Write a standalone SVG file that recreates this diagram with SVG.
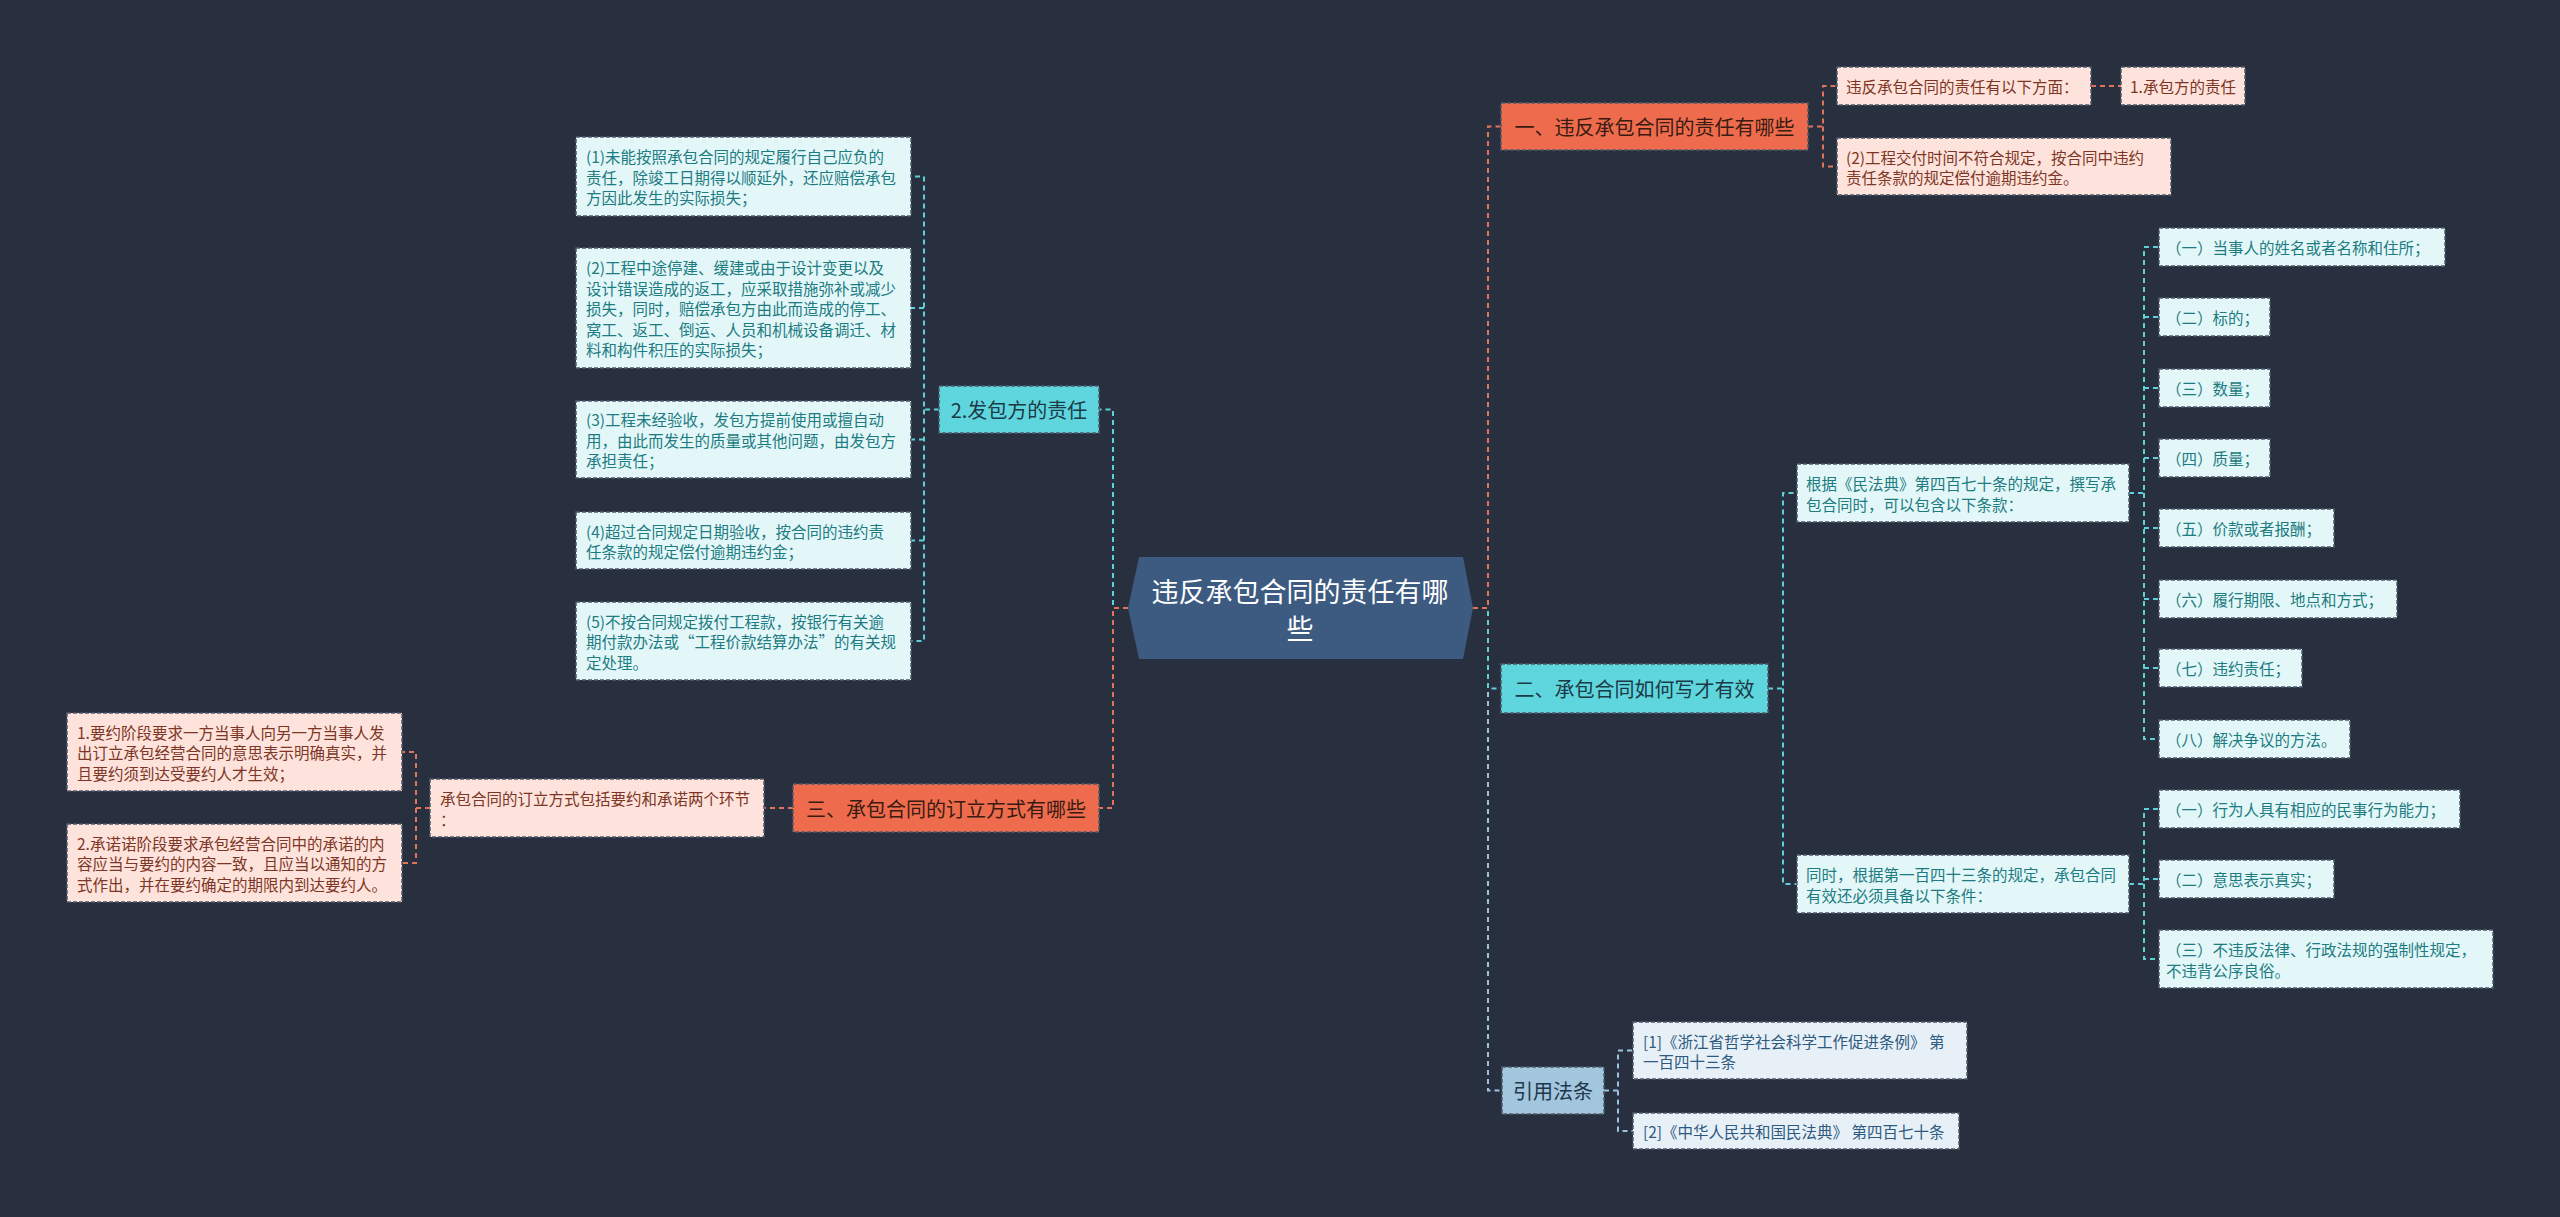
<svg xmlns="http://www.w3.org/2000/svg" width="2560" height="1217" viewBox="0 0 2560 1217">
<style>
text{font-family:"Noto Sans CJK SC","Noto Sans",sans-serif;dominant-baseline:central}
.bx{stroke:#4f5a69;stroke-width:1.5;stroke-dasharray:4 2}
.tc{fill:#e3f7f8}.tct{fill:#1d7b82;font-size:15.5px}
.pc{fill:#fde3db}.pct{fill:#7d3626;font-size:15.5px}
.rb{fill:#e8f0f7}.rbt{fill:#2d5a80;font-size:15.5px}
.on{fill:#ee6c4d}.ont{fill:#3a1b12;font-size:20px;text-anchor:middle}
.cn{fill:#5fd6de}.cnt{fill:#1b3a45;font-size:20px;text-anchor:middle}
.bn{fill:#a3c6df}.bnt{fill:#21374a;font-size:20px;text-anchor:middle}
.ln{fill:none;stroke-width:2;stroke-dasharray:5 4}
.lo{stroke:#e0735a}.lc{stroke:#5fd0d8}.lb{stroke:#9cc3e0}
</style>
<rect width="2560" height="1217" fill="#283040"/>
<g id="connectors">
<path class="ln lc" d="M1128,608 H1113 V409.5 H1099"/>
<path class="ln lo" d="M1128,608 H1113 V808 H1099"/>
<path class="ln lb" d="M1473,608 H1488 V1090.5 H1502"/>
<path class="ln lc" d="M1473,608 H1488 V688.5 H1501"/>
<path class="ln lo" d="M1473,608 H1488 V126.5 H1501"/>
<path class="ln lc" d="M939,409.5 H924 V176.5 H911 M924,308 H911 M924,409.5 V641 H911 M924,439.5 H911 M924,540.5 H911"/>
<path class="ln lo" d="M793,808 H764"/>
<path class="ln lo" d="M430,808 H416 V752 H402 M416,808 V863 H402"/>
<path class="ln lo" d="M1808,126.5 H1823 V86 H1837 M1823,126.5 V166.5 H1837"/>
<path class="ln lo" d="M2091,86 H2121"/>
<path class="ln lc" d="M1768,688.5 H1783 V493 H1797 M1783,688.5 V884 H1797"/>
<path class="ln lc" d="M2129,493 H2144 V247 H2159 M2144,317 H2159 M2144,388 H2159 M2144,458 H2159 M2144,493 V739 H2159 M2144,528 H2159 M2144,599 H2159 M2144,668 H2159"/>
<path class="ln lc" d="M2129,884 H2144 V809 H2159 M2144,879 H2159 M2144,884 V959 H2159"/>
<path class="ln lb" d="M1604,1090.5 H1618 V1050.5 H1633 M1618,1090.5 V1131 H1633"/>
</g>
<g id="center">
<polygon points="1139,557 1463,557 1473,608 1463,659 1139,659 1128,608" fill="#3d5a80"/>
<text x="1300" y="590" fill="#ffffff" font-size="27" text-anchor="middle">违反承包合同的责任有哪</text>
<text x="1300" y="627" fill="#ffffff" font-size="27" text-anchor="middle">些</text>
</g>
<g id="n-fabao">
<rect class="bx cn" x="939" y="386" width="160" height="47"/>
<text class="cnt" x="1019" y="409.5">2.发包方的责任</text>
</g>
<g id="n-f1">
<rect class="bx tc" x="576" y="137" width="335" height="79"/>
<text class="tct" x="586" y="156">(1)未能按照承包合同的规定履行自己应负的</text>
<text class="tct" x="586" y="176.5">责任，除竣工日期得以顺延外，还应赔偿承包</text>
<text class="tct" x="586" y="197">方因此发生的实际损失；</text>
</g>
<g id="n-f2">
<rect class="bx tc" x="576" y="248" width="335" height="120"/>
<text class="tct" x="586" y="267">(2)工程中途停建、缓建或由于设计变更以及</text>
<text class="tct" x="586" y="287.5">设计错误造成的返工，应采取措施弥补或减少</text>
<text class="tct" x="586" y="308">损失，同时，赔偿承包方由此而造成的停工、</text>
<text class="tct" x="586" y="328.5">窝工、返工、倒运、人员和机械设备调迁、材</text>
<text class="tct" x="586" y="349">料和构件积压的实际损失；</text>
</g>
<g id="n-f3">
<rect class="bx tc" x="576" y="401" width="335" height="77"/>
<text class="tct" x="586" y="419">(3)工程未经验收，发包方提前使用或擅自动</text>
<text class="tct" x="586" y="439.5">用，由此而发生的质量或其他问题，由发包方</text>
<text class="tct" x="586" y="460">承担责任；</text>
</g>
<g id="n-f4">
<rect class="bx tc" x="576" y="512" width="335" height="57"/>
<text class="tct" x="586" y="530.5">(4)超过合同规定日期验收，按合同的违约责</text>
<text class="tct" x="586" y="551">任条款的规定偿付逾期违约金；</text>
</g>
<g id="n-f5">
<rect class="bx tc" x="576" y="602" width="335" height="78"/>
<text class="tct" x="586" y="620.5">(5)不按合同规定拨付工程款，按银行有关逾</text>
<text class="tct" x="586" y="641">期付款办法或“工程价款结算办法”的有关规</text>
<text class="tct" x="586" y="661.5">定处理。</text>
</g>
<g id="n-san">
<rect class="bx on" x="793" y="784" width="306" height="48"/>
<text class="ont" x="946" y="808">三、承包合同的订立方式有哪些</text>
</g>
<g id="n-s1">
<rect class="bx pc" x="430" y="779" width="334" height="58"/>
<text class="pct" x="440" y="798">承包合同的订立方式包括要约和承诺两个环节</text>
<text class="pct" x="440" y="819">：</text>
</g>
<g id="n-s11">
<rect class="bx pc" x="67" y="713" width="335" height="78"/>
<text class="pct" x="77" y="731.5">1.要约阶段要求一方当事人向另一方当事人发</text>
<text class="pct" x="77" y="752">出订立承包经营合同的意思表示明确真实，并</text>
<text class="pct" x="77" y="772.5">且要约须到达受要约人才生效；</text>
</g>
<g id="n-s12">
<rect class="bx pc" x="67" y="824" width="335" height="78"/>
<text class="pct" x="77" y="842.5">2.承诺诺阶段要求承包经营合同中的承诺的内</text>
<text class="pct" x="77" y="863">容应当与要约的内容一致，且应当以通知的方</text>
<text class="pct" x="77" y="883.5">式作出，并在要约确定的期限内到达要约人。</text>
</g>
<g id="n-yi">
<rect class="bx on" x="1501" y="103" width="307" height="47"/>
<text class="ont" x="1654.5" y="126.5">一、违反承包合同的责任有哪些</text>
</g>
<g id="n-y1">
<rect class="bx pc" x="1837" y="67" width="254" height="38"/>
<text class="pct" x="1846" y="86">违反承包合同的责任有以下方面：</text>
</g>
<g id="n-y11">
<rect class="bx pc" x="2121" y="67" width="124" height="38"/>
<text class="pct" x="2130" y="86">1.承包方的责任</text>
</g>
<g id="n-y2">
<rect class="bx pc" x="1837" y="138" width="334" height="57"/>
<text class="pct" x="1846" y="156.5">(2)工程交付时间不符合规定，按合同中违约</text>
<text class="pct" x="1846" y="177">责任条款的规定偿付逾期违约金。</text>
</g>
<g id="n-er">
<rect class="bx cn" x="1501" y="664" width="267" height="49"/>
<text class="cnt" x="1634.5" y="688.5">二、承包合同如何写才有效</text>
</g>
<g id="n-e1">
<rect class="bx tc" x="1797" y="464" width="332" height="58"/>
<text class="tct" x="1806" y="483">根据《民法典》第四百七十条的规定，撰写承</text>
<text class="tct" x="1806" y="503.5">包合同时，可以包含以下条款：</text>
</g>
<g id="n-e11"><rect class="bx tc" x="2159" y="228" width="286" height="38"/><text class="tct" x="2166" y="247">（一）当事人的姓名或者名称和住所；</text></g>
<g id="n-e12"><rect class="bx tc" x="2159" y="298" width="111" height="38"/><text class="tct" x="2166" y="317">（二）标的；</text></g>
<g id="n-e13"><rect class="bx tc" x="2159" y="369" width="111" height="38"/><text class="tct" x="2166" y="388">（三）数量；</text></g>
<g id="n-e14"><rect class="bx tc" x="2159" y="439" width="111" height="38"/><text class="tct" x="2166" y="458">（四）质量；</text></g>
<g id="n-e15"><rect class="bx tc" x="2159" y="509" width="175" height="38"/><text class="tct" x="2166" y="528">（五）价款或者报酬；</text></g>
<g id="n-e16"><rect class="bx tc" x="2159" y="580" width="238" height="38"/><text class="tct" x="2166" y="599">（六）履行期限、地点和方式；</text></g>
<g id="n-e17"><rect class="bx tc" x="2159" y="649" width="143" height="38"/><text class="tct" x="2166" y="668">（七）违约责任；</text></g>
<g id="n-e18"><rect class="bx tc" x="2159" y="720" width="191" height="38"/><text class="tct" x="2166" y="739">（八）解决争议的方法。</text></g>
<g id="n-e2">
<rect class="bx tc" x="1797" y="855" width="332" height="58"/>
<text class="tct" x="1806" y="874">同时，根据第一百四十三条的规定，承包合同</text>
<text class="tct" x="1806" y="894.5">有效还必须具备以下条件：</text>
</g>
<g id="n-e21"><rect class="bx tc" x="2159" y="790" width="301" height="38"/><text class="tct" x="2166" y="809">（一）行为人具有相应的民事行为能力；</text></g>
<g id="n-e22"><rect class="bx tc" x="2159" y="860" width="175" height="38"/><text class="tct" x="2166" y="879">（二）意思表示真实；</text></g>
<g id="n-e23">
<rect class="bx tc" x="2159" y="930" width="334" height="58"/>
<text class="tct" x="2166" y="949">（三）不违反法律、行政法规的强制性规定，</text>
<text class="tct" x="2166" y="969.5">不违背公序良俗。</text>
</g>
<g id="n-yinyong">
<rect class="bx bn" x="1502" y="1067" width="102" height="47"/>
<text class="bnt" x="1553" y="1090.5">引用法条</text>
</g>
<g id="n-r1">
<rect class="bx rb" x="1633" y="1022" width="334" height="57"/>
<text class="rbt" x="1643" y="1040.5">[1]《浙江省哲学社会科学工作促进条例》 第</text>
<text class="rbt" x="1643" y="1061">一百四十三条</text>
</g>
<g id="n-r2">
<rect class="bx rb" x="1633" y="1113" width="326" height="36"/>
<text class="rbt" x="1643" y="1131">[2]《中华人民共和国民法典》 第四百七十条</text>
</g>
</svg>
